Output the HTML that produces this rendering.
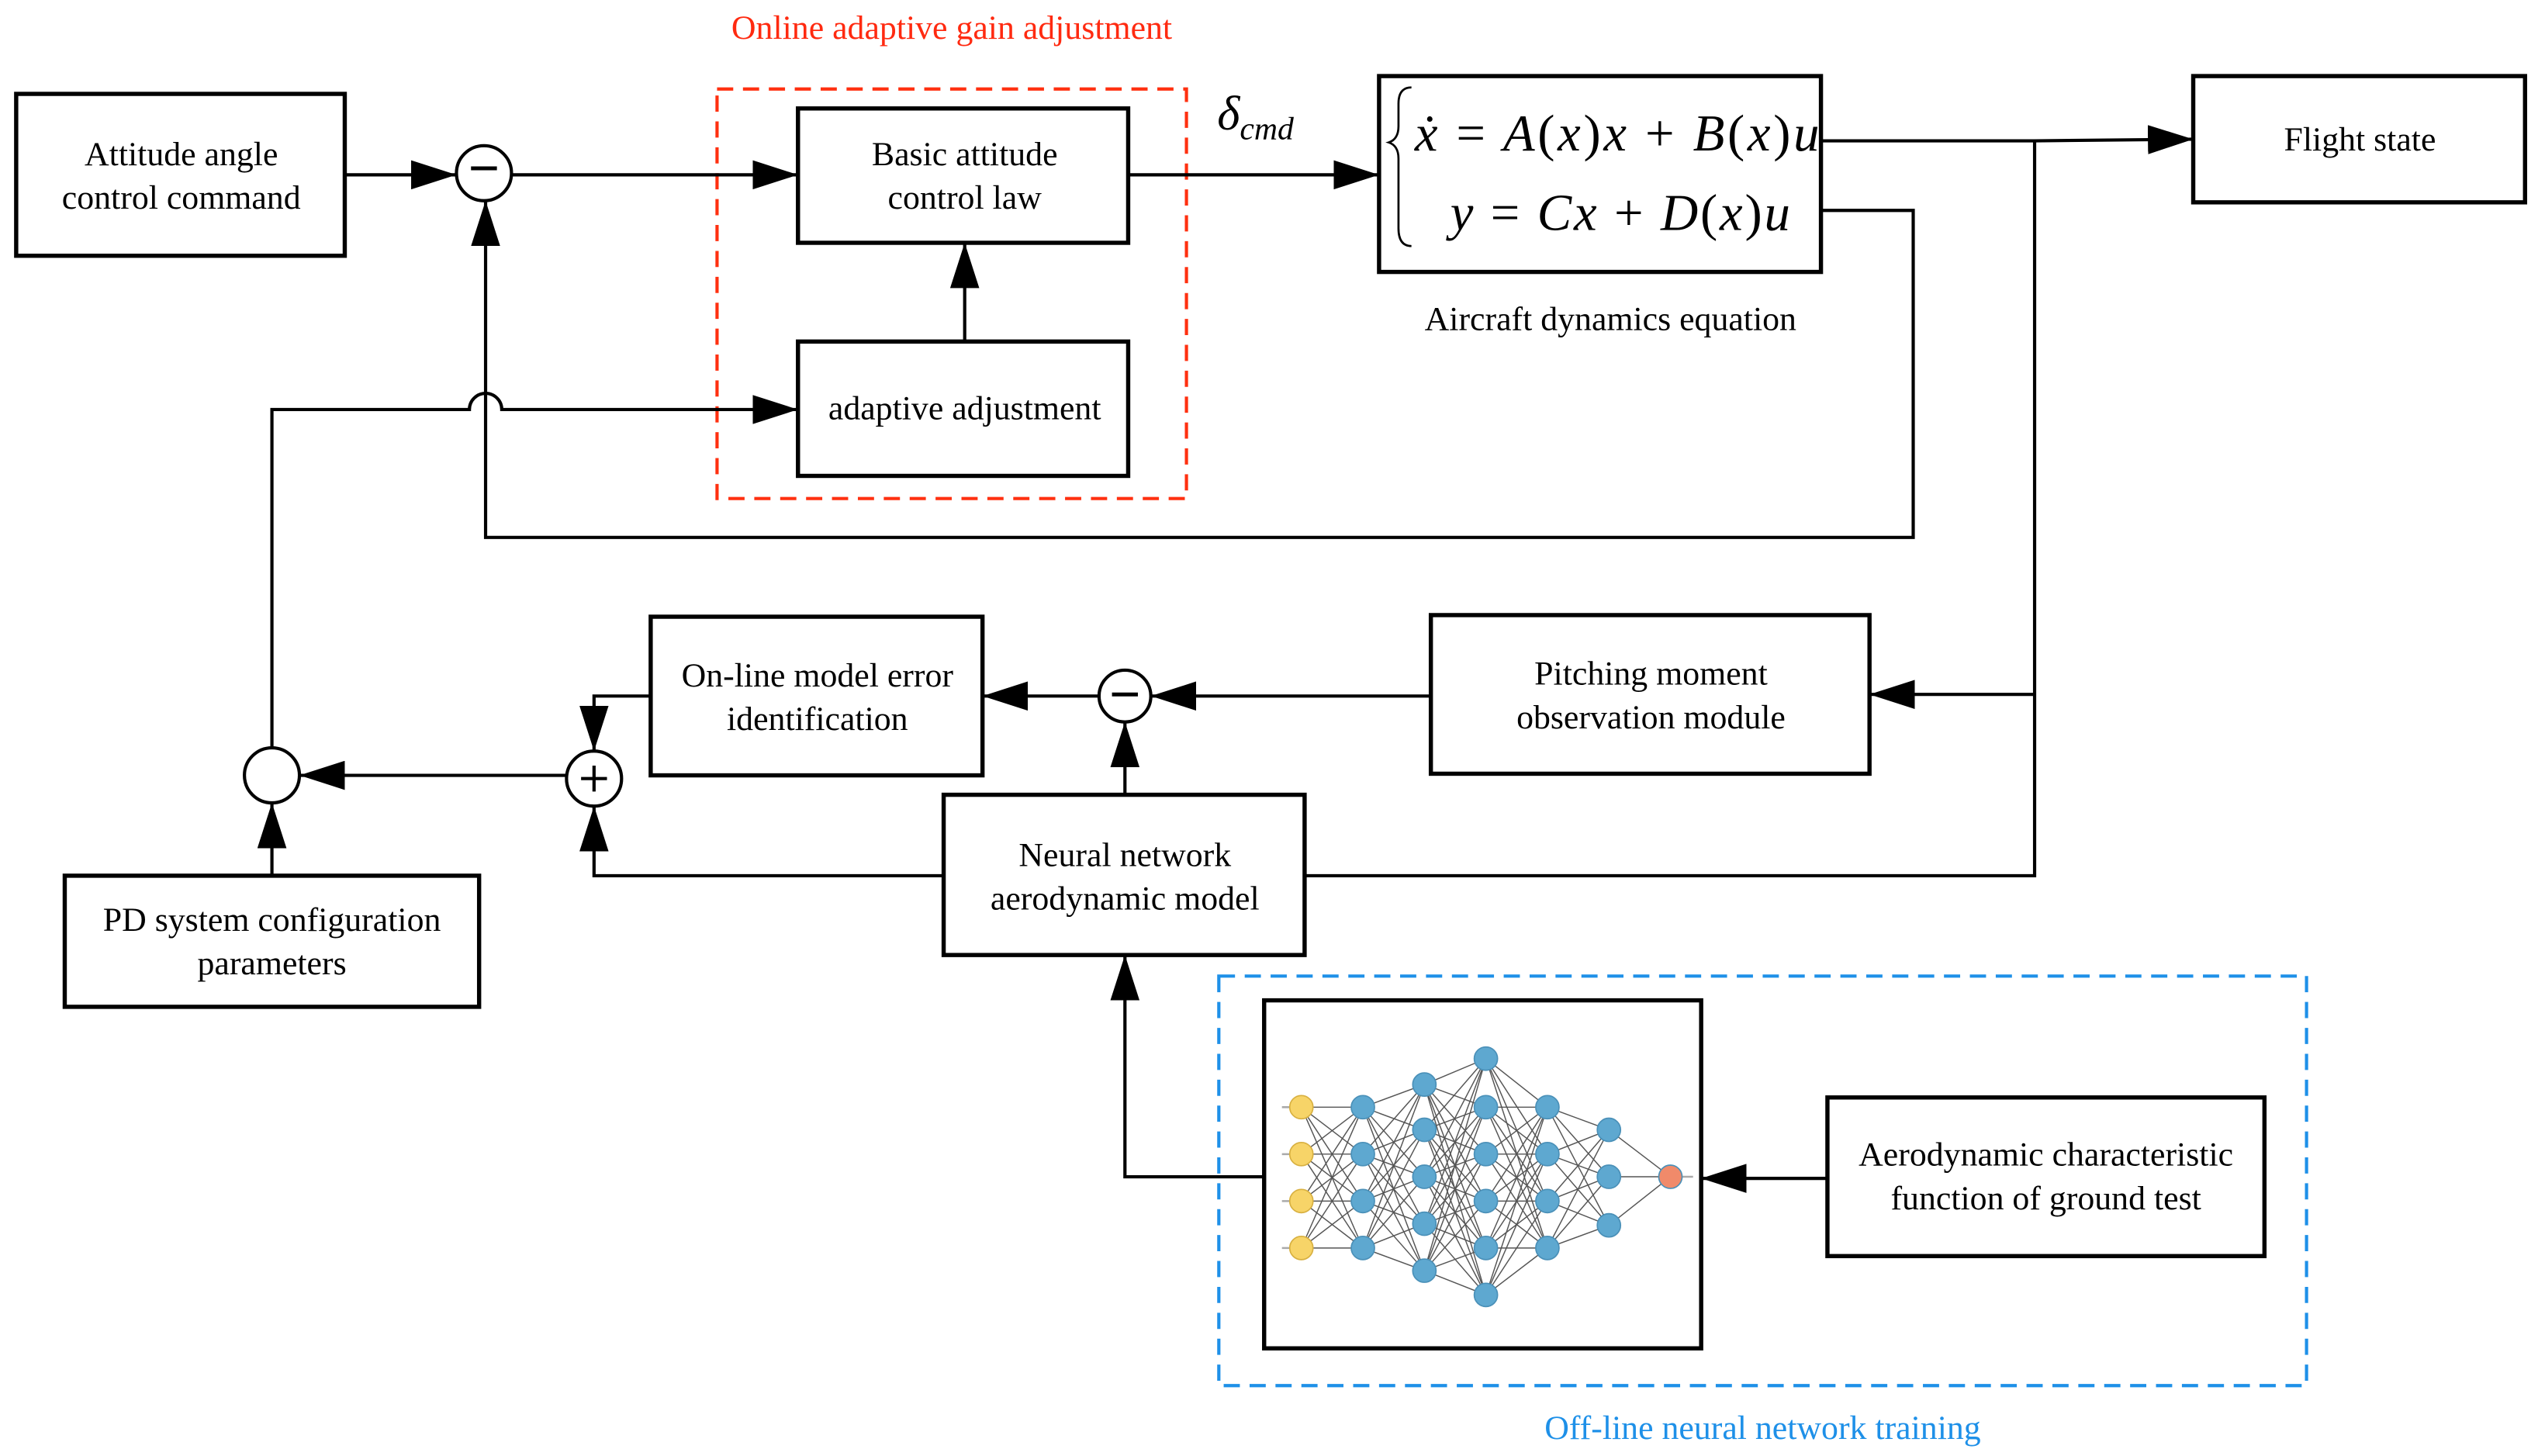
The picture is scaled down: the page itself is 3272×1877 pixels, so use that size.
<!DOCTYPE html>
<html><head><meta charset="utf-8"><style>
html,body{margin:0;padding:0;background:#fff;}
svg{display:block;}
svg text{font-family:"Liberation Serif","DejaVu Serif","Times New Roman",serif;font-size:21px;fill:#000;}
</style></head><body>
<svg id="s" width="3272" height="1877" viewBox="0 0 1568 899.5" preserveAspectRatio="none" xmlns="http://www.w3.org/2000/svg" font-family="Liberation Serif, DejaVu Serif, serif">
<defs>
<marker id="a" markerWidth="28" markerHeight="18" refX="28" refY="9" orient="auto" markerUnits="userSpaceOnUse"><path d="M0,0 L28,9 L0,18 Z" fill="#000"/></marker>
</defs>
<g fill="none" stroke="#000" stroke-width="2.6">
<rect x="10" y="58" width="203" height="100"/>
<rect x="493" y="67" width="204" height="83"/>
<rect x="493" y="211" width="204" height="83"/>
<rect x="852" y="47" width="273" height="121"/>
<rect x="1355" y="47" width="205" height="78"/>
<rect x="884" y="380" width="271" height="98"/>
<rect x="402" y="381" width="205" height="98"/>
<rect x="583" y="491" width="223" height="99"/>
<rect x="40" y="541" width="256" height="81"/>
<rect x="1129" y="678" width="270" height="98"/>
<rect x="781" y="618" width="270" height="215"/>
</g>
<rect x="443" y="55" width="290" height="253" fill="none" stroke="#ff3010" stroke-width="2" stroke-dasharray="10,6"/>
<rect x="753" y="603" width="672" height="253" fill="none" stroke="#1e90e8" stroke-width="2" stroke-dasharray="10,6"/>
<g fill="none" stroke="#000" stroke-width="2">
<circle cx="299" cy="107" r="17"/>
<circle cx="695" cy="430" r="16"/>
<circle cx="367" cy="481" r="17"/>
<circle cx="168" cy="479" r="17"/>
<line x1="291" y1="104" x2="307" y2="104" stroke-width="2.4"/>
<line x1="687" y1="429" x2="703" y2="429" stroke-width="2.4"/>
<line x1="359" y1="481" x2="375" y2="481"/><line x1="367" y1="473" x2="367" y2="489"/>
<path d="M213,108 H282" marker-end="url(#a)"/>
<path d="M316,108 H493" marker-end="url(#a)"/>
<path d="M596,211 V150" marker-end="url(#a)"/>
<path d="M697,108 H852" marker-end="url(#a)"/>
<path d="M1125,87 H1257 L1355,86" marker-end="url(#a)"/>
<path d="M1125,130 H1182 V332 H300 V124" marker-end="url(#a)"/>
<path d="M168,462 V253 H290 A10,10 0 0 1 310,253 H493" marker-end="url(#a)"/>
<path d="M1257,87 V541 H806"/>
<path d="M1257,429 H1155" marker-end="url(#a)"/>
<path d="M884,430 H711" marker-end="url(#a)"/>
<path d="M679,430 H607" marker-end="url(#a)"/>
<path d="M695,491 V446" marker-end="url(#a)"/>
<path d="M583,541 H367 V498" marker-end="url(#a)"/>
<path d="M402,430 H367 V464" marker-end="url(#a)"/>
<path d="M350,479 H185" marker-end="url(#a)"/>
<path d="M168,541 V496" marker-end="url(#a)"/>
<path d="M781,727 H695 V590" marker-end="url(#a)"/>
<path d="M1129,728 H1051" marker-end="url(#a)"/>
</g>
<g id="nn"></g>
<text x="588" y="24" text-anchor="middle" style="fill:#ff2a10">Online adaptive gain adjustment</text>
<text x="1089" y="889" text-anchor="middle" style="fill:#1e90e8">Off-line neural network training</text>
<text x="112" y="102" text-anchor="middle">Attitude angle</text>
<text x="112" y="129" text-anchor="middle">control command</text>
<text x="596" y="102" text-anchor="middle">Basic attitude</text>
<text x="596" y="129" text-anchor="middle">control law</text>
<text x="596" y="259" text-anchor="middle">adaptive adjustment</text>
<text x="1458" y="93" text-anchor="middle">Flight state</text>
<text x="995" y="204" text-anchor="middle">Aircraft dynamics equation</text>
<text x="1020" y="423" text-anchor="middle">Pitching moment</text>
<text x="1020" y="450" text-anchor="middle">observation module</text>
<text x="505" y="424" text-anchor="middle">On-line model error</text>
<text x="505" y="451" text-anchor="middle">identification</text>
<text x="695" y="535" text-anchor="middle">Neural network</text>
<text x="695" y="562" text-anchor="middle">aerodynamic model</text>
<text x="168" y="575" text-anchor="middle">PD system configuration</text>
<text x="168" y="602" text-anchor="middle">parameters</text>
<text x="1264" y="720" text-anchor="middle">Aerodynamic characteristic</text>
<text x="1264" y="747" text-anchor="middle">function of ground test</text>
<text x="752" y="80" style="font-size:30px;font-style:italic">δ<tspan style="font-size:20px" dy="6">cmd</tspan></text>
<path d="M872,54 Q864,54 864,64 V78 Q864,86 858,88 Q864,90 864,98 V141 Q864,152 872,152" fill="none" stroke="#000" stroke-width="1.3"/>
<text x="874" y="93" textLength="250" lengthAdjust="spacing" style="font-size:32px;font-style:italic">ẋ <tspan font-style="normal">=</tspan> A<tspan font-style="normal">(</tspan>x<tspan font-style="normal">)</tspan>x <tspan font-style="normal">+</tspan> B<tspan font-style="normal">(</tspan>x<tspan font-style="normal">)</tspan>u</text>
<text x="896" y="142" textLength="210" lengthAdjust="spacing" style="font-size:32px;font-style:italic">y <tspan font-style="normal">=</tspan> Cx <tspan font-style="normal">+</tspan> D<tspan font-style="normal">(</tspan>x<tspan font-style="normal">)</tspan>u</text>
</svg>
<script>
var L=[[804,[684,713,742,771],'#f7d468'],[842,[684,713,742,771],'#5ea8d0'],[880,[670,698,727,756,785],'#5ea8d0'],[918,[654,684,713,742,771,800],'#5ea8d0'],[956,[684,713,742,771],'#5ea8d0'],[994,[698,727,757],'#5ea8d0'],[1032,[727],'#f08a6a']];
var g=document.getElementById('nn'),h='';
h+='<g stroke="#aaa" stroke-width="1.2">';
[684,713,742,771].forEach(function(y){h+='<line x1="792" y1="'+y+'" x2="804" y2="'+y+'"/>';});
h+='<line x1="1032" y1="727" x2="1046" y2="727"/>';
for(var i=0;i<L.length-1;i++){L[i][1].forEach(function(a){L[i+1][1].forEach(function(b){h+='<line x1="'+L[i][0]+'" y1="'+a+'" x2="'+L[i+1][0]+'" y2="'+b+'" stroke="#555" stroke-width="0.7"/>';});});}
h+='</g>';
L.forEach(function(l){l[1].forEach(function(y){h+='<circle cx="'+l[0]+'" cy="'+y+'" r="7.2" fill="'+l[2]+'" stroke="'+(l[2]=='#f7d468'?'#d8b040':'#4a90b8')+'" stroke-width="0.8"/>';});});
g.innerHTML=h;
</script>
</body></html>
